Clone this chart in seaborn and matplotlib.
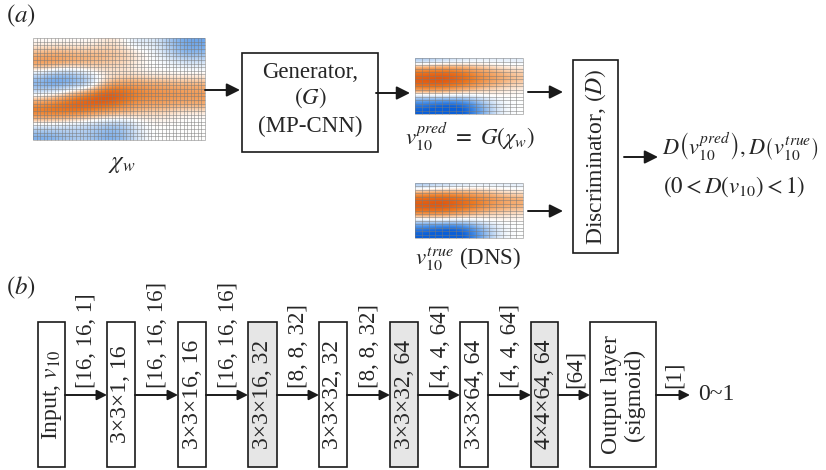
import numpy as np
import matplotlib
matplotlib.use('Agg')
import matplotlib.pyplot as plt
import seaborn as sns
from matplotlib.patches import Rectangle
from matplotlib.colors import LinearSegmentedColormap

# coarse field values (orange > 0, blue < 0)
chi_w = [
    [0.0, 0.0, 0.0, 0.0, 0.0, 0.05, 0.1, 0.0, -0.15, -0.1, -0.2, -0.4, -0.5, -0.5],
    [0.3, 0.35, 0.35, 0.3, 0.3, 0.3, 0.25, 0.2, 0.1, 0.0, -0.1, -0.3, -0.45, -0.4],
    [0.5, 0.5, 0.4, 0.35, 0.3, 0.25, 0.2, 0.15, 0.05, 0.0, 0.0, -0.05, -0.1, -0.1],
    [-0.2, -0.35, -0.4, -0.3, -0.15, 0.0, 0.05, 0.05, 0.05, 0.0, 0.0, 0.0, 0.0, 0.0],
    [-0.5, -0.6, -0.55, -0.5, -0.4, 0.05, 0.35, 0.4, 0.4, 0.35, 0.35, 0.3, 0.3, 0.3],
    [-0.1, 0.0, 0.15, 0.4, 0.6, 0.85, 0.9, 0.75, 0.6, 0.55, 0.5, 0.5, 0.45, 0.45],
    [0.55, 0.65, 0.75, 0.85, 0.85, 0.8, 0.7, 0.55, 0.45, 0.4, 0.4, 0.35, 0.35, 0.35],
    [0.6, 0.6, 0.55, 0.5, 0.4, 0.3, 0.25, 0.2, 0.15, 0.1, 0.1, 0.05, 0.0, 0.0],
    [-0.1, -0.1, -0.15, -0.2, -0.25, -0.3, -0.35, -0.3, -0.1, 0.0, 0.0, 0.0, 0.0, 0.0],
    [-0.45, -0.45, -0.35, -0.3, -0.3, -0.4, -0.45, -0.35, -0.15, 0.0, 0.0, 0.0, 0.0, 0.0],
]
v10_pred = [
    [-0.3, -0.25, -0.2, -0.15, -0.1, -0.1, -0.1, -0.1],
    [0.45, 0.5, 0.5, 0.45, 0.35, 0.25, 0.15, 0.1],
    [0.75, 0.8, 0.8, 0.7, 0.55, 0.45, 0.35, 0.25],
    [0.8, 0.85, 0.8, 0.7, 0.55, 0.4, 0.3, 0.2],
    [0.5, 0.5, 0.45, 0.35, 0.25, 0.15, 0.1, 0.05],
    [-0.2, -0.15, -0.15, -0.15, -0.1, 0.0, 0.0, 0.0],
    [-0.7, -0.8, -0.85, -0.8, -0.55, -0.25, -0.05, 0.0],
    [-0.9, -0.95, -1.0, -0.95, -0.65, -0.3, -0.05, 0.0],
]
v10_true = [
    [-0.3, -0.25, -0.2, -0.15, -0.1, -0.1, -0.1, -0.1],
    [0.45, 0.5, 0.5, 0.45, 0.4, 0.3, 0.2, 0.15],
    [0.75, 0.8, 0.8, 0.7, 0.6, 0.5, 0.4, 0.35],
    [0.8, 0.85, 0.8, 0.7, 0.6, 0.45, 0.35, 0.3],
    [0.5, 0.5, 0.45, 0.35, 0.25, 0.15, 0.15, 0.1],
    [-0.2, -0.15, -0.15, -0.15, -0.1, 0.0, 0.0, 0.0],
    [-0.7, -0.8, -0.85, -0.8, -0.55, -0.25, -0.05, 0.0],
    [-0.9, -0.95, -1.0, -0.95, -0.65, -0.3, -0.05, 0.0],
]

layer_labels = ['Input, $v_{10}$', '3×3×1, 16', '3×3×16, 16', '3×3×16, 32',
                '3×3×32, 32', '3×3×32, 64', '3×3×64, 64', '4×4×64, 64',
                'Output layer\n(sigmoid)']
shaded = [False, False, False, True, False, True, False, True, False]
shape_labels = ['[16, 16, 1]', '[16, 16, 16]', '[16, 16, 16]', '[8, 8, 32]',
                '[8, 8, 32]', '[4, 4, 64]', '[4, 4, 64]', '[64]', '[1]']

sns.set_theme(style='white')
plt.rcParams['font.family'] = ['Liberation Serif', 'DejaVu Serif']
plt.rcParams['mathtext.fontset'] = 'stix'

cmap = LinearSegmentedColormap.from_list(
    'bo', ['#0a5fd8', '#4f93e6', '#a9c9ef', '#ffffff', '#f6b27a', '#ec7a22', '#dc4a08'])

fig = plt.figure(figsize=(8.26, 4.70), dpi=100)
ax = fig.add_axes([0, 0, 1, 1])


def field(arr, x0, x1, y0, y1, nx, ny):
    ax.imshow(np.array(arr), cmap=cmap, vmin=-0.9, vmax=0.9, interpolation='bicubic',
              extent=(x0, x1, y1, y0), aspect='auto', zorder=1)
    ax.vlines(np.linspace(x0, x1, nx + 1), y0, y1, color='#7a7a7a', lw=0.5, alpha=0.7, zorder=2)
    ax.hlines(np.linspace(y0, y1, ny + 1), x0, x1, color='#7a7a7a', lw=0.5, alpha=0.7, zorder=2)


def arrow(x0, x1, y, ms=20):
    ax.annotate('', xy=(x1, y), xytext=(x0, y),
                arrowprops=dict(arrowstyle='-|>', color='k', lw=1.4,
                                mutation_scale=ms, shrinkA=0, shrinkB=0))


def box(x0, x1, y0, y1, fc='white'):
    ax.add_patch(Rectangle((x0, y0), x1 - x0, y1 - y0, fc=fc, ec='k', lw=1.2, zorder=3))


# ---- panel (a)
ax.text(6, 16, '$(a)$', fontsize=18, va='center', ha='left')
field(chi_w, 33, 205, 38, 140, 48, 28)
ax.text(122, 164, r'$\chi_w$', fontsize=18, ha='center', va='center')
arrow(205, 240, 90)

box(242, 378, 53, 152)
ax.text(310, 72, 'Generator,', fontsize=16.5, ha='center', va='center', zorder=4)
ax.text(310, 98, '$(G)$', fontsize=16.5, ha='center', va='center', zorder=4)
ax.text(310, 126, '(MP-CNN)', fontsize=16.5, ha='center', va='center', zorder=4)
arrow(376, 410, 93)

field(v10_pred, 415, 523, 58, 114, 16, 16)
ax.text(470, 137, r'$v_{10}^{pred}\ =\ G(\chi_w)$', fontsize=16.5, ha='center', va='center')
arrow(528, 563, 92)

field(v10_true, 415, 523, 183, 238, 16, 16)
ax.text(468, 259, r'$v_{10}^{true}$ (DNS)', fontsize=16.5, ha='center', va='center')
arrow(528, 563, 211)

box(573, 618, 60, 253)
ax.text(596, 157, 'Discriminator, $(D)$', fontsize=17, rotation=90,
        ha='center', va='center', zorder=4)
arrow(624, 658, 157)
ax.text(662, 146, r'$D\left(v_{10}^{pred}\right), D\left(v_{10}^{true}\right)$',
        fontsize=16, ha='left', va='center')
ax.text(663, 187, r'$\left(0 < D\left(v_{10}\right) < 1\right)$',
        fontsize=16.5, ha='left', va='center')

# ---- panel (b)
ax.text(6, 288, '$(b)$', fontsize=18, va='center', ha='left')
xs = [(38, 65), (107, 135), (178, 206), (248, 277), (319, 347),
      (390, 418), (460, 488), (531, 558), (590, 656)]
y0, y1, ya = 322, 467, 395
for i, (lab, (a, b)) in enumerate(zip(layer_labels, xs)):
    box(a, b, y0, y1, '#e6e6e6' if shaded[i] else 'white')
    ax.text((a + b) / 2, (y0 + y1) / 2, lab, fontsize=17, rotation=90,
            ha='center', va='center', zorder=4, linespacing=1.1)
    nxt = xs[i + 1][0] if i + 1 < len(xs) else 690
    arrow(b, nxt, ya, ms=15)
    ax.text((b + nxt) / 2 + 1, ya - 7, shape_labels[i], fontsize=16.5, rotation=90,
            ha='center', va='bottom')
ax.text(698, ya, '0~1', fontsize=17, ha='left', va='center')

ax.set_xlim(0, 826)
ax.set_ylim(470, 0)
ax.axis('off')
fig.savefig('out.png', dpi=100)
